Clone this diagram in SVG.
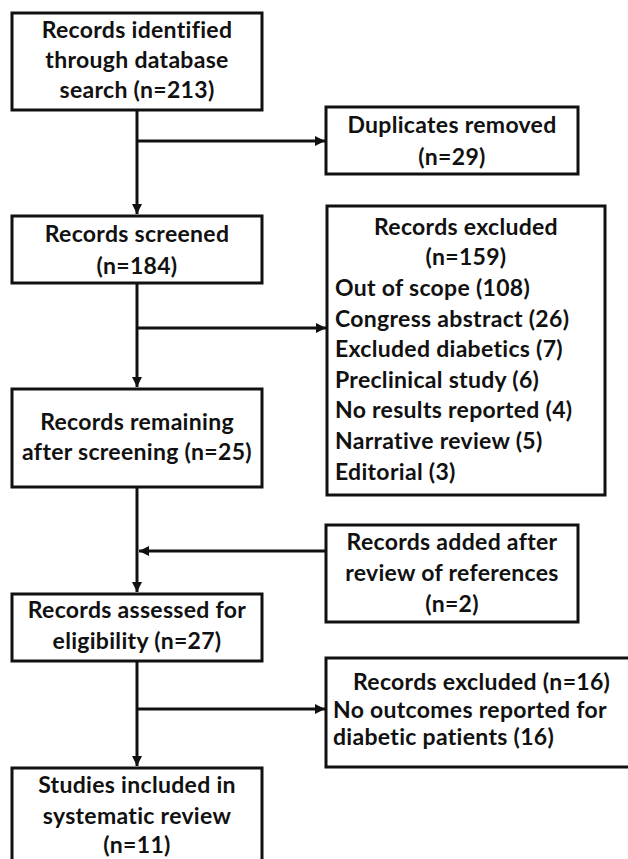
<svg xmlns="http://www.w3.org/2000/svg" width="628" height="859" viewBox="0 0 628 859">
<style>
.box{fill:#fff;stroke:#111;stroke-width:3}
.t{font-family:Lato,"Liberation Sans",sans-serif;font-weight:bold;font-size:23px;letter-spacing:0.3px;fill:#111}
.c{text-anchor:middle}
.ln{fill:none;stroke:#111;stroke-width:3}
</style>
<defs>
<marker id="ah" markerUnits="userSpaceOnUse" markerWidth="12" markerHeight="12" refX="10" refY="5" orient="auto">
<path d="M0,0 L10,5 L0,10 Z" fill="#111"/>
</marker>
</defs>
<rect width="628" height="859" fill="#fff"/>
<g id="connectors">
<line class="ln" x1="137" y1="110" x2="137" y2="214" marker-end="url(#ah)"/>
<line class="ln" x1="137" y1="141" x2="325" y2="141" marker-end="url(#ah)"/>
<line class="ln" x1="137" y1="283" x2="137" y2="387" marker-end="url(#ah)"/>
<line class="ln" x1="137" y1="328" x2="326" y2="328" marker-end="url(#ah)"/>
<line class="ln" x1="137" y1="487" x2="137" y2="592" marker-end="url(#ah)"/>
<line class="ln" x1="326" y1="551" x2="139" y2="551" marker-end="url(#ah)"/>
<line class="ln" x1="137" y1="661" x2="137" y2="766" marker-end="url(#ah)"/>
<line class="ln" x1="137" y1="709" x2="325" y2="709" marker-end="url(#ah)"/>
</g>
<g id="identified">
<rect class="box" x="12" y="13" width="250" height="97"/>
<text class="t c" x="137" y="38">Records identified</text>
<text class="t c" x="137" y="68">through database</text>
<text class="t c" x="137" y="98">search (n=213)</text>
</g>
<g id="duplicates">
<rect class="box" x="326" y="107" width="252" height="67"/>
<text class="t c" x="452" y="133">Duplicates removed</text>
<text class="t c" x="452" y="165">(n=29)</text>
</g>
<g id="screened">
<rect class="box" x="12" y="216" width="250" height="67"/>
<text class="t c" x="137" y="242">Records screened</text>
<text class="t c" x="137" y="274">(n=184)</text>
</g>
<g id="excluded159">
<rect class="box" x="327" y="206" width="278" height="289"/>
<text class="t c" x="466" y="235">Records excluded</text>
<text class="t c" x="466" y="265">(n=159)</text>
<text class="t" x="335" y="296">Out of scope (108)</text>
<text class="t" x="335" y="327">Congress abstract (26)</text>
<text class="t" x="335" y="357">Excluded diabetics (7)</text>
<text class="t" x="335" y="388">Preclinical study (6)</text>
<text class="t" x="335" y="418">No results reported (4)</text>
<text class="t" x="335" y="449">Narrative review (5)</text>
<text class="t" x="335" y="480">Editorial (3)</text>
</g>
<g id="remaining">
<rect class="box" x="12" y="389" width="250" height="98"/>
<text class="t c" x="137" y="430">Records remaining</text>
<text class="t c" x="137" y="460">after screening (n=25)</text>
</g>
<g id="added">
<rect class="box" x="326" y="525" width="252" height="97"/>
<text class="t c" x="452" y="550">Records added after</text>
<text class="t c" x="452" y="581">review of references</text>
<text class="t c" x="452" y="612">(n=2)</text>
</g>
<g id="assessed">
<rect class="box" x="12" y="594" width="250" height="67"/>
<text class="t c" x="137" y="618">Records assessed for</text>
<text class="t c" x="137" y="649">eligibility (n=27)</text>
</g>
<g id="excluded16">
<rect class="box" x="326" y="658" width="320" height="109"/>
<text class="t" x="353" y="690">Records excluded (n=16)</text>
<text class="t" x="333" y="718">No outcomes reported for</text>
<text class="t" x="333" y="745">diabetic patients (16)</text>
</g>
<g id="included">
<rect class="box" x="12" y="768" width="250" height="110"/>
<text class="t c" x="137" y="793">Studies included in</text>
<text class="t c" x="137" y="824">systematic review</text>
<text class="t c" x="137" y="853">(n=11)</text>
</g>
</svg>
